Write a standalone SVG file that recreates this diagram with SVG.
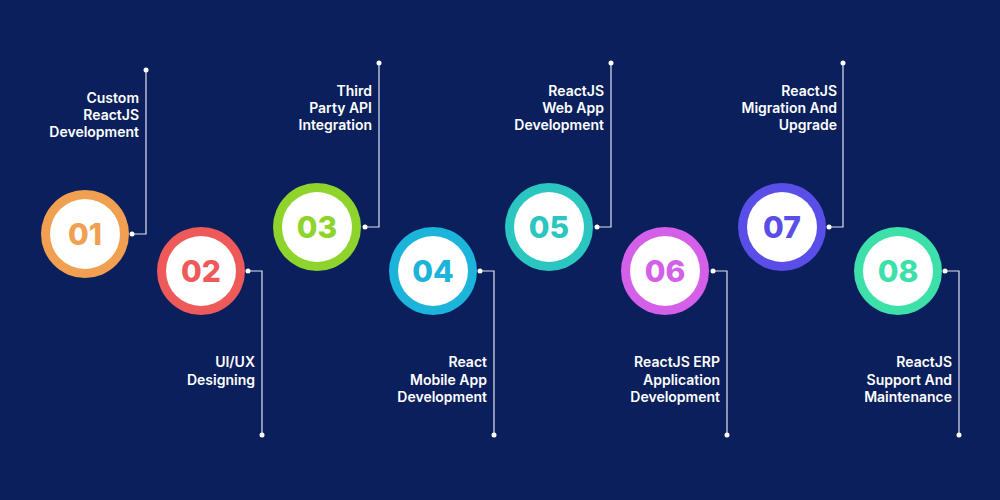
<svg xmlns="http://www.w3.org/2000/svg" width="1000" height="500" viewBox="0 0 1000 500">
<style>
.ring{stroke-width:8}
.in{fill:#fff}
.num{font-family:Inter,"Liberation Sans",sans-serif;font-weight:800;font-size:30px;text-anchor:middle}
.lbl{font-family:Inter,"Liberation Sans",sans-serif;font-weight:600;font-size:14px;fill:#fff;text-anchor:end}
.ln{stroke:#dfe4f0;stroke-width:1.2;fill:none}
.dot{fill:#fff}
</style>
<rect width="1000" height="500" fill="#0b1f5c"/>
<g id="connectors">
<path class="ln" d="M132 234H146V70"/><circle class="dot" cx="132" cy="234" r="2.5"/><circle class="dot" cx="146" cy="70" r="2.5"/>
<path class="ln" d="M248 271H262V435"/><circle class="dot" cx="248" cy="271" r="2.5"/><circle class="dot" cx="262" cy="435" r="2.5"/>
<path class="ln" d="M365 227H379V63"/><circle class="dot" cx="365" cy="227" r="2.5"/><circle class="dot" cx="379" cy="63" r="2.5"/>
<path class="ln" d="M480 271H494V435"/><circle class="dot" cx="480" cy="271" r="2.5"/><circle class="dot" cx="494" cy="435" r="2.5"/>
<path class="ln" d="M597 227H611V63"/><circle class="dot" cx="597" cy="227" r="2.5"/><circle class="dot" cx="611" cy="63" r="2.5"/>
<path class="ln" d="M713 271H727V435"/><circle class="dot" cx="713" cy="271" r="2.5"/><circle class="dot" cx="727" cy="435" r="2.5"/>
<path class="ln" d="M829 227H843V63"/><circle class="dot" cx="829" cy="227" r="2.5"/><circle class="dot" cx="843" cy="63" r="2.5"/>
<path class="ln" d="M945 271H959V435"/><circle class="dot" cx="945" cy="271" r="2.5"/><circle class="dot" cx="959" cy="435" r="2.5"/>
</g>
<g id="n1"><circle cx="85" cy="234" r="44" fill="#f0a050"/><circle class="in" cx="85" cy="234" r="35"/><text class="num" x="85" y="245" fill="#f0a050">01</text>
<text class="lbl" x="139" y="103">Custom</text><text class="lbl" x="139" y="120">ReactJS</text><text class="lbl" x="139" y="137">Development</text></g>
<g id="n2"><circle cx="201" cy="271" r="44" fill="#ee5a5a"/><circle class="in" cx="201" cy="271" r="35"/><text class="num" x="201" y="282" fill="#ee5a5a">02</text>
<text class="lbl" x="255" y="367">UI/UX</text><text class="lbl" x="255" y="385">Designing</text></g>
<g id="n3"><circle cx="317" cy="227" r="44" fill="#8ed42c"/><circle class="in" cx="317" cy="227" r="35"/><text class="num" x="317" y="238" fill="#8ed42c">03</text>
<text class="lbl" x="372" y="96">Third</text><text class="lbl" x="372" y="113">Party API</text><text class="lbl" x="372" y="130">Integration</text></g>
<g id="n4"><circle cx="433" cy="271" r="44" fill="#1cb4da"/><circle class="in" cx="433" cy="271" r="35"/><text class="num" x="433" y="282" fill="#1cb4da">04</text>
<text class="lbl" x="487" y="367">React</text><text class="lbl" x="487" y="385">Mobile App</text><text class="lbl" x="487" y="402">Development</text></g>
<g id="n5"><circle cx="549" cy="227" r="44" fill="#2cc6c0"/><circle class="in" cx="549" cy="227" r="35"/><text class="num" x="549" y="238" fill="#2cc6c0">05</text>
<text class="lbl" x="604" y="96">ReactJS</text><text class="lbl" x="604" y="113">Web App</text><text class="lbl" x="604" y="130">Development</text></g>
<g id="n6"><circle cx="665" cy="271" r="44" fill="#d460ea"/><circle class="in" cx="665" cy="271" r="35"/><text class="num" x="665" y="282" fill="#d460ea">06</text>
<text class="lbl" x="720" y="367">ReactJS ERP</text><text class="lbl" x="720" y="385">Application</text><text class="lbl" x="720" y="402">Development</text></g>
<g id="n7"><circle cx="782" cy="227" r="44" fill="#5a4ee8"/><circle class="in" cx="782" cy="227" r="35"/><text class="num" x="782" y="238" fill="#5a4ee8">07</text>
<text class="lbl" x="837" y="96">ReactJS</text><text class="lbl" x="837" y="113">Migration And</text><text class="lbl" x="837" y="130">Upgrade</text></g>
<g id="n8"><circle cx="898" cy="271" r="44" fill="#3ee0aa"/><circle class="in" cx="898" cy="271" r="35"/><text class="num" x="898" y="282" fill="#3ee0aa">08</text>
<text class="lbl" x="952" y="367">ReactJS</text><text class="lbl" x="952" y="385">Support And</text><text class="lbl" x="952" y="402">Maintenance</text></g>
</svg>
